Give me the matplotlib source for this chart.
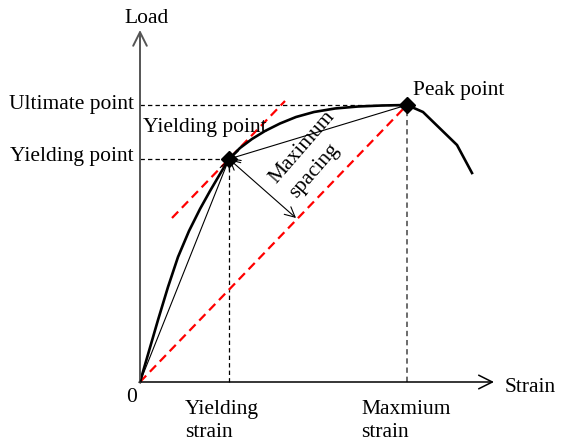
import matplotlib
matplotlib.use("Agg")
import matplotlib.pyplot as plt

# Load-strain curve (arbitrary units)
strain = [0.00, 0.09, 0.18, 0.28, 0.38, 0.49, 0.60, 0.70, 0.80, 0.89,
          1.00, 1.12, 1.25, 1.40, 1.56, 1.74, 1.95, 2.18, 2.42, 2.67,
          2.83, 3.17, 3.32]
load = [0.00, 0.31, 0.62, 0.95, 1.25, 1.51, 1.73, 1.91, 2.08, 2.23,
        2.34, 2.43, 2.51, 2.585, 2.65, 2.70, 2.735, 2.755, 2.765, 2.77,
        2.70, 2.37, 2.09]

yield_pt = (0.89, 2.23)
peak_pt = (2.67, 2.77)
spacing_foot = (1.56, 1.64)
tangent_x = [0.32, 1.45]
tangent_y = [1.64, 2.81]

axis_end_x = 3.54
axis_end_y = 3.52

plt.rcParams["font.family"] = ["Liberation Serif", "DejaVu Serif"]
FS = 15.5

fig = plt.figure(figsize=(5.64, 4.47), dpi=100)
ax = fig.add_axes([0, 0, 1, 1])
ax.set_xlim(-1.40, 4.24)
ax.set_ylim(-0.65, 3.82)
ax.axis("off")

# axes with open arrowheads
head = "->,head_length=0.7,head_width=0.35"
ax.annotate("", xy=(axis_end_x, 0), xytext=(0, 0),
            arrowprops=dict(arrowstyle=head, color="black", lw=1.1,
                            mutation_scale=14, shrinkA=0, shrinkB=0))
ax.annotate("", xy=(0, axis_end_y), xytext=(0, 0),
            arrowprops=dict(arrowstyle=head, color="#555555", lw=1.4,
                            mutation_scale=14, shrinkA=0, shrinkB=0))

# guide lines to the axes
dash = (0, (3.5, 2.5))
ax.plot([0, peak_pt[0]], [peak_pt[1], peak_pt[1]], color="black", lw=0.9, ls=dash)
ax.plot([0, yield_pt[0]], [yield_pt[1], yield_pt[1]], color="black", lw=0.9, ls=dash)
ax.plot([yield_pt[0], yield_pt[0]], [0, yield_pt[1]], color="black", lw=0.9, ls=dash)
ax.plot([peak_pt[0], peak_pt[0]], [0, peak_pt[1]], color="#444444", lw=1.1, ls=dash)

# red dashed secant through origin and parallel line through yield point
red_dash = (0, (4, 2.4))
ax.plot([0, peak_pt[0]], [0, peak_pt[1]], color="red", lw=1.6, ls=red_dash)
ax.plot(tangent_x, tangent_y, color="red", lw=1.6, ls=red_dash)

# thin chords
thin = "->,head_length=0.6,head_width=0.3"
ax.annotate("", xy=yield_pt, xytext=(0, 0),
            arrowprops=dict(arrowstyle=thin, color="black", lw=0.8,
                            mutation_scale=12, shrinkA=0, shrinkB=0))
ax.annotate("", xy=yield_pt, xytext=peak_pt,
            arrowprops=dict(arrowstyle=thin, color="black", lw=0.8,
                            mutation_scale=12, shrinkA=0, shrinkB=0))
ax.annotate("", xy=spacing_foot, xytext=yield_pt,
            arrowprops=dict(arrowstyle="<->,head_length=0.6,head_width=0.3",
                            color="black", lw=0.8, mutation_scale=12,
                            shrinkA=0, shrinkB=0))

# load-strain curve
ax.plot(strain, load, color="black", lw=1.9, solid_joinstyle="round")
ax.plot(*zip(yield_pt, peak_pt), ls="none", marker="D", ms=8, color="black")

# labels
ax.text(0.07, 3.63, "Load", fontsize=FS, ha="center", va="center")
ax.text(3.65, -0.05, "Strain", fontsize=FS, ha="left", va="center")
ax.text(-0.08, -0.16, "0", fontsize=FS, ha="center", va="center")
ax.text(-0.06, peak_pt[1], "Ultimate point", fontsize=FS, ha="right", va="center")
ax.text(-0.06, yield_pt[1] + 0.02, "Yielding point", fontsize=FS,
        ha="right", va="center")
ax.text(0.03, 2.54, "Yielding point", fontsize=FS, ha="left", va="center")
ax.text(2.73, 2.91, "Peak point", fontsize=FS, ha="left", va="center")
ax.text(0.45, -0.39, "Yielding\nstrain", fontsize=FS, ha="left", va="center",
        linespacing=1.25)
ax.text(2.21, -0.39, "Maxmium\nstrain", fontsize=FS, ha="left", va="center",
        linespacing=1.25)
ax.text(1.62, 2.35, "Maximum", fontsize=FS, rotation=49,
        rotation_mode="anchor", ha="center", va="center")
ax.text(1.74, 2.11, "spacing", fontsize=FS, rotation=49,
        rotation_mode="anchor", ha="center", va="center")

fig.savefig("out.png", dpi=100)
